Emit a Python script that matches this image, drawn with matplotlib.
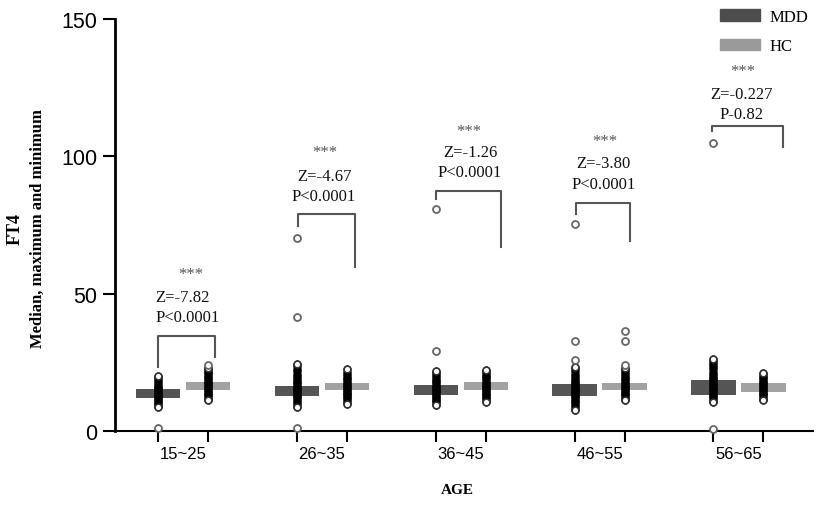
import matplotlib.pyplot as plt
from matplotlib.patches import Patch

groups = ['15~25', '26~35', '36~45', '46~55', '56~65']

# box (interquartile) limits
mdd_q1 = [12.0, 12.9, 13.2, 12.9, 13.2]
mdd_q3 = [15.3, 16.5, 16.9, 17.1, 18.6]
hc_q1 = [14.9, 14.9, 14.9, 14.9, 14.3]
hc_q3 = [17.9, 17.5, 17.7, 17.4, 17.4]

# individual values (dense columns)
mdd_points = [
    [8.7, 9.0, 9.7, 10.3, 10.9, 11.4, 11.9, 12.4, 12.8, 13.2, 13.6, 14.0, 14.4, 14.8,
     15.2, 15.7, 16.2, 16.8, 17.4, 18.1, 18.8, 19.6, 20.1],
    [8.9, 9.6, 10.3, 11.0, 11.6, 12.2, 12.7, 13.2, 13.7, 14.2, 14.7, 15.2, 15.7, 16.2,
     16.8, 17.4, 18.0, 18.7, 19.4, 20.1, 20.9, 21.7, 22.6, 23.5, 24.5],
    [9.4, 10.1, 10.8, 11.4, 12.0, 12.5, 13.0, 13.5, 14.0, 14.5, 15.0, 15.5, 16.0, 16.5,
     17.1, 17.7, 18.3, 19.0, 19.7, 20.4, 21.2, 22.0],
    [7.6, 8.3, 9.0, 9.7, 10.4, 11.0, 11.6, 12.2, 12.7, 13.2, 13.7, 14.2, 14.7, 15.2,
     15.7, 16.2, 16.8, 17.4, 18.0, 18.7, 19.4, 20.1, 20.9, 21.7, 22.5, 23.3],
    [10.4, 11.0, 11.6, 12.2, 12.8, 13.4, 14.0, 14.6, 15.2, 15.8, 16.4, 17.0, 17.6, 18.2,
     18.8, 19.4, 20.0, 20.8, 21.6, 22.4, 23.2, 24.0, 24.8, 25.5, 26.2],
]
hc_points = [
    [11.2, 11.8, 12.4, 13.0, 13.5, 14.0, 14.5, 15.0, 15.5, 16.0, 16.5, 17.0, 17.5, 18.0,
     18.6, 19.2, 19.8, 20.4, 21.0, 21.6, 22.3, 23.0],
    [10.0, 10.7, 11.3, 11.9, 12.5, 13.0, 13.5, 14.0, 14.5, 15.0, 15.5, 16.0, 16.5, 17.0,
     17.6, 18.2, 18.8, 19.4, 20.1, 20.8, 21.6, 22.4],
    [10.6, 11.3, 11.9, 12.5, 13.0, 13.5, 14.0, 14.5, 15.0, 15.5, 16.0, 16.5, 17.0, 17.6,
     18.2, 18.8, 19.5, 20.2, 20.9, 21.6, 22.2],
    [11.2, 11.8, 12.4, 13.0, 13.5, 14.0, 14.5, 15.0, 15.5, 16.0, 16.5, 17.0, 17.6, 18.2,
     18.8, 19.4, 20.1, 20.8, 21.5, 22.3, 23.0],
    [11.2, 11.8, 12.4, 13.0, 13.5, 14.0, 14.5, 15.0, 15.5, 16.0, 16.5, 17.0, 17.5, 18.0,
     18.6, 19.2, 19.8, 20.4, 21.0],
]
# outliers
mdd_out = [[1.1], [1.1, 41.5, 70.2], [29.2, 81.0], [25.9, 32.9, 75.4], [0.7, 104.8]]
hc_out = [[24.0], [], [], [24.0, 32.6, 36.5], []]

z_text = ['Z=-7.82', 'Z=-4.67', 'Z=-1.26', 'Z=-3.80', 'Z=-0.227']
p_text = ['P<0.0001', 'P<0.0001', 'P<0.0001', 'P<0.0001', 'P-0.82']
# bracket: left x, right x, top, left end, right end
brackets = [
    (0.82, 1.23, 34.6, 23.3, 27.0),
    (1.83, 2.24, 79.0, 74.7, 59.7),
    (2.82, 3.29, 87.5, 84.5, 67.0),
    (3.83, 4.22, 83.0, 79.0, 69.3),
    (4.81, 5.32, 111.0, 109.3, 103.3),
]
# annotation anchors: star x, star y, z x, z y, p x, p y
labels_at = [
    (1.055, 57.2, 0.80, 48.8, 0.80, 41.5),
    (2.017, 101.6, 1.818, 92.8, 1.782, 85.5),
    (3.055, 109.3, 2.87, 101.5, 2.83, 94.2),
    (4.036, 105.7, 3.83, 97.5, 3.80, 90.0),
    (5.03, 131.2, 4.80, 122.7, 4.866, 115.4),
]

mdd_col = '#555555'
hc_col = '#a2a2a2'
off = 0.18
bw = 0.32

fig = plt.figure(figsize=(8.29, 5.06), dpi=100)
ax = fig.add_axes([115 / 829, 74 / 506, 698 / 829, 412 / 506])

centers = list(range(1, len(groups) + 1))
xm = [c - off for c in centers]
xh = [c + off for c in centers]

ax.bar(xm, [b - a for a, b in zip(mdd_q1, mdd_q3)], bottom=mdd_q1, width=bw,
       color=mdd_col, zorder=1)
ax.bar(xh, [b - a for a, b in zip(hc_q1, hc_q3)], bottom=hc_q1, width=bw,
       color=hc_col, zorder=1)

for i in range(len(groups)):
    for x, pts in ((xm[i], mdd_points[i]), (xh[i], hc_points[i])):
        ax.plot([x] * len(pts), pts, 'o', ms=4.8, mfc='black', mec='black', mew=1.2,
                zorder=3)
        ax.plot([x, x], [pts[0], pts[-1]], 'o', ms=4.8, mfc='white', mec='#333333',
                mew=1.1, zorder=3.5)
    for x, pts in ((xm[i], mdd_out[i]), (xh[i], hc_out[i])):
        if pts:
            ax.plot([x] * len(pts), pts, 'o', ms=5, mfc='white', mec='#666666', mew=1.3,
                    zorder=4, clip_on=False)

serif = 'Liberation Serif'
for (x0, x1, top, y0, y1), (sx, sy, zx, zy, px, py), zt, pt in zip(brackets, labels_at, z_text, p_text):
    ax.plot([x0, x0, x1, x1], [y0, top, top, y1], color='#555555', lw=1.5, zorder=2)
    ax.text(sx, sy, '***', ha='center', va='center', family=serif, fontsize=12,
            color='#555555')
    ax.text(zx, zy, zt, ha='left', va='center', family=serif, fontsize=12, color='#111111')
    ax.text(px, py, pt, ha='left', va='center', family=serif, fontsize=12, color='#111111')

ax.set_xlim(0.508, 5.538)
ax.set_ylim(0, 150)
ax.set_yticks([0, 50, 100, 150])
ax.set_xticks(xm + xh)
ax.set_xticklabels([])
ax.set_xticks(centers, minor=True)
ax.set_xticklabels(groups, minor=True, family='Liberation Sans', fontsize=12)
ax.tick_params(axis='x', which='minor', length=0, pad=11)
ax.tick_params(axis='x', which='major', length=8, width=1.5, direction='out')
ax.tick_params(axis='y', length=8.5, width=1.5, pad=4, labelsize=15.5)
for lab in ax.get_yticklabels():
    lab.set_family('Liberation Sans')

for s in ('top', 'right'):
    ax.spines[s].set_visible(False)
ax.spines['left'].set_linewidth(2)
ax.spines['bottom'].set_linewidth(1.5)

fig.text(15 / 829, 1 - 229 / 506, 'FT4', rotation=90, ha='center', va='center',
         family=serif, fontweight='bold', fontsize=13)
fig.text(38 / 829, 1 - 229 / 506, 'Median, maximum and minimum', rotation=90,
         ha='center', va='center', family=serif, fontweight='bold', fontsize=12)
fig.text(457 / 829, 1 - 491 / 506, 'AGE', ha='center', va='center', family=serif,
         fontweight='bold', fontsize=11)

handles = [Patch(color='#4d4d4d', label='MDD'), Patch(color='#9a9a9a', label='HC')]
fig.legend(handles=handles, loc='upper left', bbox_to_anchor=(720 / 829, 1 - 10 / 506),
           frameon=False, borderpad=0, borderaxespad=0, handlelength=2.4,
           handleheight=0.7, handletextpad=0.6, labelspacing=0.8,
           prop={'family': serif, 'size': 12})

fig.savefig('out.png', dpi=100)
